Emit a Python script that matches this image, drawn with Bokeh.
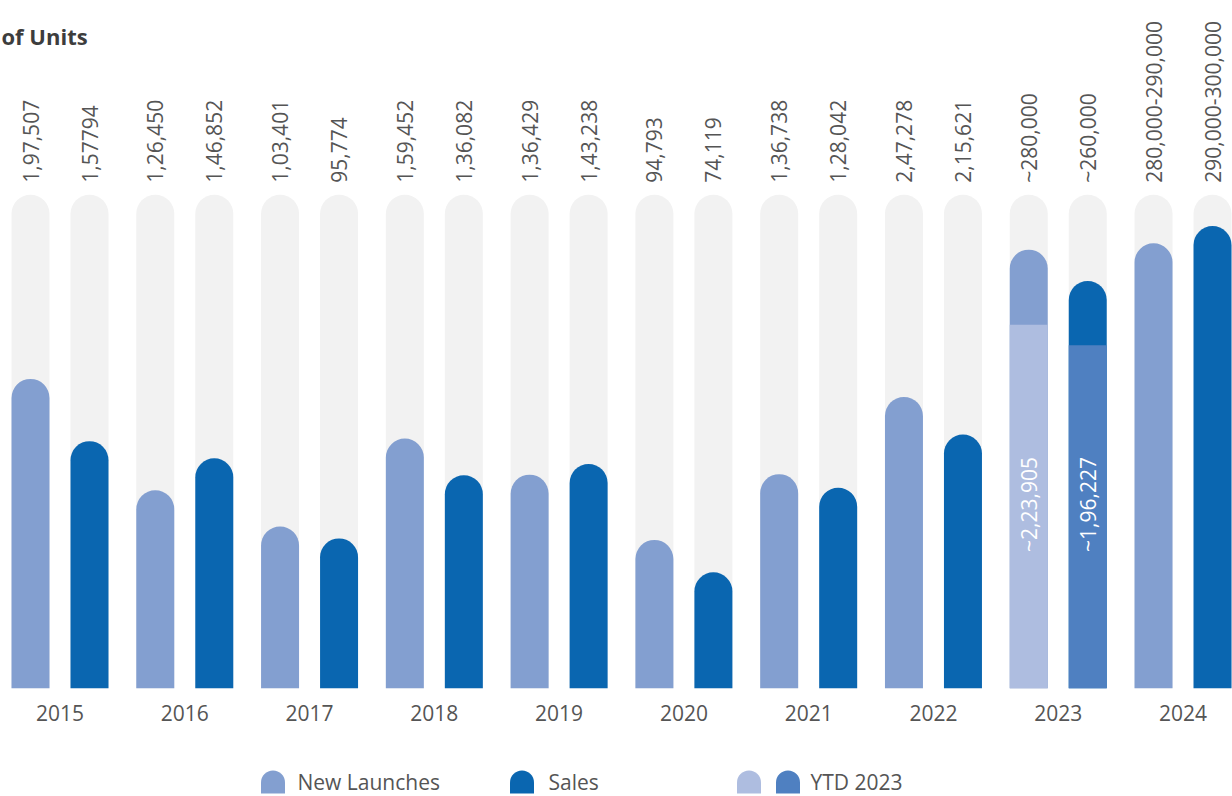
import math
from bokeh.plotting import figure
from bokeh.models import Range1d, FixedTicker, ColumnDataSource
from bokeh.layouts import column
from bokeh.core.properties import value
from bokeh.embed import file_html
from bokeh.resources import INLINE

# ---------------- data ----------------
years = ["2015", "2016", "2017", "2018", "2019", "2020", "2021", "2022", "2023", "2024"]
# bar heights as drawn in the picture (units)
new_launches = [197507, 126450, 103401, 159452, 136429, 94793, 136738, 186000, 280000, 284000]
sales = [157794, 146852, 95774, 136082, 143238, 74119, 128042, 162000, 260000, 295000]
# value labels printed above the bars
new_launch_labels = ["1,97,507", "1,26,450", "1,03,401", "1,59,452", "1,36,429",
                     "94,793", "1,36,738", "2,47,278", "~280,000", "280,000-290,000"]
sales_labels = ["1,57794", "1,46,852", "95,774", "1,36,082", "1,43,238",
                "74,119", "1,28,042", "2,15,621", "~260,000", "290,000-300,000"]
# YTD 2023 portions (bar heights as drawn) and their labels
ytd_year = "2023"
ytd_new_launches = 232000
ytd_sales = 219000
ytd_labels = ["~2,23,905", "~1,96,227"]
track_max = 315000
title_text = "of Units"
legend_labels = ["New Launches", "Sales", "YTD 2023"]

# ---------------- style ----------------
C_NL = "#839FD0"
C_SALES = "#0A66B0"
C_YTD_NL = "#AEBDE0"
C_YTD_SALES = "#4F80C1"
C_TRACK = "#F2F2F2"
C_TEXT = "#555555"
FONT = "Open Sans"

W = 1232
FRAME_H = 688
GROUP_PX = 124.78
BAR_PX = 38
OFF_PX = 29.5
UNITS_PER_PX = 638.0

bar_w = BAR_PX / GROUP_PX
off = OFF_PX / GROUP_PX
x0 = -59.5 / GROUP_PX

p = figure(width=W, height=756, output_backend="svg", toolbar_location=None,
           x_range=Range1d(x0, x0 + W / GROUP_PX),
           y_range=Range1d(0, FRAME_H * UNITS_PER_PX),
           min_border_left=0, min_border_right=0, min_border_top=0,
           min_border_bottom=68, y_axis_location=None)
p.outline_line_color = None
p.grid.visible = False
p.background_fill_color = "white"
p.border_fill_color = "white"

idx = list(range(len(years)))
x_nl = [i - off for i in idx]
x_sa = [i + off for i in idx]

src = ColumnDataSource(dict(x_nl=x_nl, x_sa=x_sa, nl=new_launches, sa=sales,
                            nl_lab=new_launch_labels, sa_lab=sales_labels,
                            track=[track_max] * len(years)))

R = 19
# background tracks
for xc in ("x_nl", "x_sa"):
    p.vbar(x=xc, width=bar_w, bottom=0, top="track", source=src,
           fill_color=C_TRACK, line_color=None, border_radius=(R, R, 0, 0))

p.vbar(x="x_nl", width=bar_w, bottom=0, top="nl", source=src,
       fill_color=C_NL, line_color=None, border_radius=(R, R, 0, 0))
p.vbar(x="x_sa", width=bar_w, bottom=0, top="sa", source=src,
       fill_color=C_SALES, line_color=None, border_radius=(R, R, 0, 0))

# YTD 2023 portions
yi = years.index(ytd_year)
ysrc = ColumnDataSource(dict(x=[yi - off, yi + off], top=[ytd_new_launches, ytd_sales],
                             color=[C_YTD_NL, C_YTD_SALES], lab=ytd_labels))
p.vbar(x="x", width=bar_w, bottom=0, top="top", source=ysrc,
       fill_color="color", line_color=None)
label_mid = 184 * UNITS_PER_PX
p.text(x="x", y=label_mid, text="lab", source=ysrc, angle=math.pi / 2,
       text_align="center", text_baseline="middle", text_color="white",
       text_font=value(FONT), text_font_size="21px")

# value labels above tracks
lab_y = track_max + 12 * UNITS_PER_PX
for xc, lc in (("x_nl", "nl_lab"), ("x_sa", "sa_lab")):
    p.text(x=xc, y=lab_y, text=lc, source=src, angle=math.pi / 2,
           text_align="left", text_baseline="middle", text_color=C_TEXT,
           text_font=value(FONT), text_font_size="21px")

# title
p.text(x=[x0 + 1 / GROUP_PX], y=[653 * UNITS_PER_PX], text=[title_text],
       text_align="left", text_baseline="middle", text_color="#3d3d3d",
       text_font=value(FONT), text_font_size="22px", text_font_style="bold")

# x axis with years
ax = p.xaxis[0]
ax.ticker = FixedTicker(ticks=idx)
ax.major_label_overrides = {i: y for i, y in zip(idx, years)}
ax.axis_line_color = None
ax.major_tick_line_color = None
ax.minor_tick_line_color = None
ax.major_tick_out = 0
ax.major_tick_in = 0
ax.major_label_standoff = 16
ax.major_label_text_font = FONT
ax.major_label_text_font_size = "21px"
ax.major_label_text_color = C_TEXT

# ---------------- legend strip ----------------
lg = figure(width=W, height=40, output_backend="svg", toolbar_location=None,
            x_range=Range1d(0, W), y_range=Range1d(0, 40),
            min_border=0, x_axis_location=None, y_axis_location=None)
lg.outline_line_color = None
lg.grid.visible = False

mk = ColumnDataSource(dict(x=[272.5, 521.5, 748.5, 787.5],
                           color=[C_NL, C_SALES, C_YTD_NL, C_YTD_SALES]))
lg.vbar(x="x", width=24, bottom=3, top=26, source=mk, fill_color="color",
        line_color=None, border_radius=(12, 12, 0, 0))
lg.text(x=[297, 548, 810], y=[15, 15, 15], text=legend_labels,
        text_align="left", text_baseline="middle", text_color=C_TEXT,
        text_font=value(FONT), text_font_size="21px")

layout = column(p, lg, spacing=0)
open("out.html", "w").write(file_html(layout, INLINE))
